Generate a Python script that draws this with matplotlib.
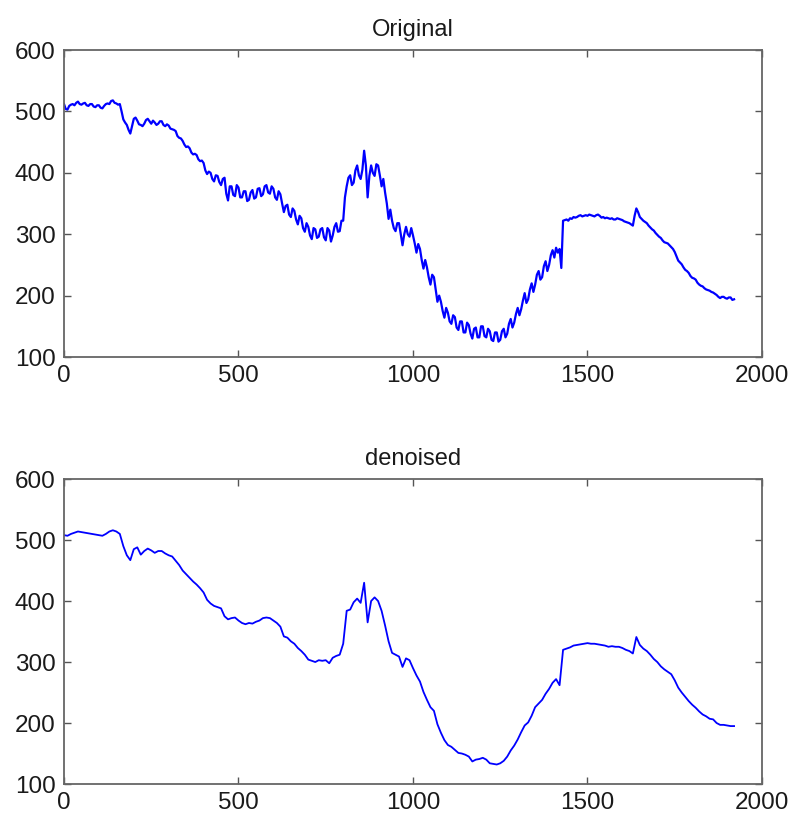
import numpy as np
import matplotlib
matplotlib.use("Agg")
import matplotlib.pyplot as plt

# noisy signal, one reading every 5 samples
orig_step = 5
original = [
    512, 504, 503, 509, 511, 512, 510, 514, 516, 512, 511, 513, 514, 510, 509, 512, 512, 508, 507, 510,
    510, 506, 505, 509, 512, 513, 512, 517, 518, 514, 513, 511, 512, 500, 487, 482, 478, 470, 464, 476,
    488, 490, 485, 479, 478, 476, 480, 486, 488, 484, 480, 485, 482, 478, 480, 484, 484, 478, 476, 479,
    477, 472, 471, 470, 468, 460, 457, 456, 452, 446, 442, 443, 440, 433, 430, 431, 429, 422, 419, 420,
    416, 404, 398, 402, 400, 390, 386, 396, 395, 385, 380, 390, 392, 366, 355, 378, 378, 364, 362, 380,
    376, 360, 360, 370, 370, 354, 356, 368, 372, 358, 360, 374, 375, 362, 365, 378, 380, 368, 366, 378,
    374, 360, 356, 370, 365, 350, 336, 346, 348, 332, 328, 342, 338, 324, 316, 330, 326, 310, 304, 318,
    312, 298, 292, 310, 308, 294, 296, 308, 310, 295, 290, 310, 306, 288, 298, 312, 318, 304, 305, 322,
    322, 360, 378, 392, 396, 380, 384, 404, 412, 396, 390, 405, 436, 412, 360, 395, 412, 400, 395, 414,
    412, 396, 378, 390, 368, 350, 325, 340, 322, 310, 305, 318, 318, 300, 282, 300, 312, 300, 296, 310,
    298, 285, 270, 284, 276, 258, 244, 258, 246, 230, 218, 234, 230, 210, 190, 200, 190, 175, 164, 180,
    172, 158, 154, 168, 165, 148, 144, 158, 158, 140, 140, 156, 152, 138, 130, 146, 148, 132, 132, 150,
    150, 134, 132, 146, 142, 128, 126, 140, 140, 125, 128, 142, 146, 132, 138, 154, 162, 148, 156, 170,
    180, 168, 178, 192, 204, 188, 194, 210, 220, 206, 218, 234, 240, 226, 230, 248, 256, 240, 250, 266,
    274, 262, 278, 270, 276, 245, 322, 323, 324, 322, 326, 325, 328, 327, 328, 330, 331, 329, 330, 331,
    330, 332, 331, 330, 329, 331, 332, 330, 327, 328, 326, 327, 326, 325, 326, 324, 324, 326, 325, 324,
    323, 321, 320, 319, 318, 316, 314, 330, 342, 336, 328, 325, 322, 320, 318, 314, 311, 308, 306, 302,
    299, 296, 294, 290, 287, 286, 285, 282, 279, 276, 271, 264, 257, 254, 251, 246, 242, 240, 237, 232,
    229, 228, 226, 221, 218, 216, 215, 212, 210, 209, 208, 206, 205, 203, 201, 198, 196, 198, 198, 196,
    195, 197, 197, 193, 194,
]

# smoothed signal, one reading every 10 samples
den_step = 10
denoised = [
    508, 507, 510, 512, 514, 513, 512, 511, 510, 509,
    508, 507, 510, 514, 516, 514, 510, 490, 475, 467,
    485, 488, 476, 482, 486, 483, 479, 482, 482, 478,
    475, 473, 466, 459, 450, 444, 438, 432, 427, 421,
    414, 402, 396, 392, 390, 388, 375, 370, 372, 373,
    368, 364, 362, 364, 363, 366, 368, 372, 373, 372,
    368, 364, 358, 342, 340, 334, 330, 323, 318, 312,
    304, 302, 300, 303, 302, 303, 298, 307, 310, 312,
    330, 384, 386, 398, 404, 397, 430, 365, 400, 406,
    400, 384, 360, 334, 315, 312, 309, 292, 306, 303,
    290, 278, 268, 251, 238, 226, 220, 198, 184, 172,
    164, 161, 156, 151, 150, 148, 145, 137, 140, 141,
    143, 140, 134, 133, 132, 134, 138, 145, 155, 163,
    173, 185, 196, 201, 212, 226, 232, 238, 248, 256,
    266, 272, 262, 320, 322, 324, 327, 328, 329, 330,
    331, 330, 330, 329, 328, 327, 325, 326, 325, 325,
    323, 320, 318, 314, 341, 328, 322, 318, 312, 305,
    300, 293, 288, 284, 280, 270, 258, 250, 243, 236,
    230, 225, 219, 214, 211, 207, 206, 200, 197, 197,
    196, 195, 195,
]

titles = ["Original", "denoised"]
x_ticks = [0, 500, 1000, 1500, 2000]
y_ticks = [100, 200, 300, 400, 500, 600]

plt.rcParams['font.family'] = ['Liberation Sans', 'DejaVu Sans']

fig = plt.figure(figsize=(7.93, 8.19), dpi=100)
ax_top = fig.add_axes([0.0807, 0.5641, 0.8802, 0.3748])
ax_bot = fig.add_axes([0.0807, 0.0427, 0.8802, 0.3724])

series = [(original, orig_step, 1.6), (denoised, den_step, 1.3)]

for ax, (y, step, lw), title in zip([ax_top, ax_bot], series, titles):
    x = np.arange(len(y)) * step
    ax.plot(x, y, color='#0000ff', linewidth=lw)
    ax.set_xlim(0, 2000)
    ax.set_ylim(100, 600)
    ax.set_xticks(x_ticks)
    ax.set_yticks(y_ticks)
    ax.tick_params(direction='in', length=5, width=1, colors='#555555',
                   labelcolor='#1a1a1a', labelsize=17.5, pad=6,
                   top=True, right=True)
    for s in ax.spines.values():
        s.set_color('#666666')
        s.set_linewidth(1.3)
    ax.set_title(title, fontsize=17, color='#1a1a1a', pad=10)

fig.savefig('out.png', dpi=100)
